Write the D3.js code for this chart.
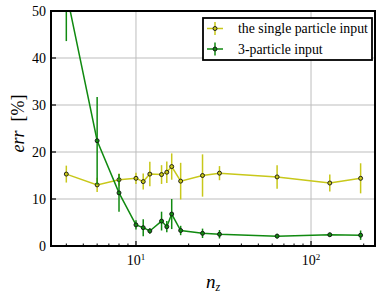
<!DOCTYPE html>
<html>
<head>
<meta charset="utf-8">
<script src="https://cdn.jsdelivr.net/npm/d3@7"></script>
<style>
  body { margin: 0; background: #fff; }
</style>
</head>
<body>
<div class="canvas"></div>
<script>
// data
const nz = [4, 6, 8, 10, 11, 12, 14, 15, 16, 18, 24, 30, 64, 128, 192];
const singleErr = [15.3, 13.0, 14.1, 14.4, 13.7, 15.3, 15.2, 15.7, 16.9, 13.8, 15.0, 15.5, 14.7, 13.4, 14.4];
const singleBar = [1.8, 1.5, 1.3, 1.2, 1.7, 2.6, 2.0, 2.3, 2.8, 3.9, 4.5, 1.5, 2.5, 1.8, 3.2];
const threeErr = [54, 22.4, 11.3, 4.5, 3.9, 3.2, 5.3, 4.1, 6.8, 3.3, 2.7, 2.5, 2.1, 2.4, 2.3];
const threeBar = [10.4, 9.3, 4.0, 1.0, 1.8, 0.6, 2.0, 1.2, 3.2, 1.0, 1.0, 0.9, 0.5, 0.4, 1.0];
const yTicks = [0, 10, 20, 30, 40, 50];
const seriesNames = ['the single particle input', '3-particle input'];

const dims = { width: 381, height: 299 };
const margin = { top: 11, right: 6, bottom: 53, left: 51 };
const w = dims.width - margin.left - margin.right;
const h = dims.height - margin.top - margin.bottom;
const serif = "'Liberation Serif', 'Times New Roman', serif";

const x = d3.scaleLog().domain([3.27, 232]).range([0, w]);
const y = d3.scaleLinear().domain([0, 50]).range([h, 0]);

const series = [
    { name: seriesNames[0], vals: singleErr, bars: singleBar, color: '#c8c81a' },
    { name: seriesNames[1], vals: threeErr, bars: threeBar, color: '#108a10' }
];

const svg = d3.select('.canvas')
    .append('svg')
    .attr('width', dims.width)
    .attr('height', dims.height);

const g = svg.append('g')
    .attr('transform', `translate(${margin.left}, ${margin.top})`);

svg.append('defs').append('clipPath')
    .attr('id', 'clip')
    .append('rect')
    .attr('width', w)
    .attr('height', h);

// grid
g.selectAll('.gx').data([10, 100]).enter()
    .append('line')
    .attr('x1', d => x(d)).attr('x2', d => x(d))
    .attr('y1', 0).attr('y2', h)
    .attr('stroke', '#bdbdbd').attr('stroke-width', 1);
g.selectAll('.gy').data(yTicks.slice(1, -1)).enter()
    .append('line')
    .attr('y1', d => y(d)).attr('y2', d => y(d))
    .attr('x1', 0).attr('x2', w)
    .attr('stroke', '#bdbdbd').attr('stroke-width', 1);

// data
const plot = g.append('g').attr('clip-path', 'url(#clip)');
const line = d3.line().x((d, i) => x(nz[i])).y(d => y(d));

series.forEach(s => {
    const sg = plot.append('g');
    sg.selectAll('line.err').data(s.vals).enter()
        .append('line')
        .attr('x1', (d, i) => x(nz[i])).attr('x2', (d, i) => x(nz[i]))
        .attr('y1', (d, i) => y(d - s.bars[i]))
        .attr('y2', (d, i) => y(d + s.bars[i]))
        .attr('stroke', s.color).attr('stroke-width', 1.5);
    sg.append('path')
        .attr('d', line(s.vals))
        .attr('fill', 'none')
        .attr('stroke', s.color).attr('stroke-width', 1.5);
    sg.selectAll('circle').data(s.vals).enter()
        .append('circle')
        .attr('cx', (d, i) => x(nz[i]))
        .attr('cy', d => y(d))
        .attr('r', 2)
        .attr('fill', s.color)
        .attr('stroke', '#111').attr('stroke-width', 0.9);
});

// axes, ticks inward
const xMinor = [];
for (let e = 1; e <= 100; e *= 10) {
    for (let k = 2; k < 10; k++) {
        const v = k * e;
        if (v > 3.27 && v < 232) xMinor.push(v);
    }
}
g.selectAll('.xminor').data(xMinor).enter()
    .append('line')
    .attr('x1', d => x(d)).attr('x2', d => x(d))
    .attr('y1', h).attr('y2', h - 2.5)
    .attr('stroke', '#000').attr('stroke-width', 1);
g.selectAll('.xmajor').data([10, 100]).enter()
    .append('line')
    .attr('x1', d => x(d)).attr('x2', d => x(d))
    .attr('y1', h).attr('y2', h - 5)
    .attr('stroke', '#000').attr('stroke-width', 1.2);
g.selectAll('.ymajor').data(yTicks).enter()
    .append('line')
    .attr('y1', d => y(d)).attr('y2', d => y(d))
    .attr('x1', 0).attr('x2', 5)
    .attr('stroke', '#000').attr('stroke-width', 1.2);

g.append('rect')
    .attr('width', w).attr('height', h)
    .attr('fill', 'none')
    .attr('stroke', '#000').attr('stroke-width', 2);

// tick labels
g.selectAll('.ylab').data(yTicks).enter()
    .append('text')
    .attr('x', -5)
    .attr('y', d => y(d))
    .attr('dy', '0.35em')
    .attr('text-anchor', 'end')
    .attr('font-size', 14)
    .text(d => d);

const xl = g.selectAll('.xlab').data([1, 2]).enter()
    .append('text')
    .attr('x', d => x(Math.pow(10, d)))
    .attr('y', h + 19)
    .attr('text-anchor', 'middle')
    .attr('font-size', 14);
xl.append('tspan').text('10');
xl.append('tspan').attr('dy', -5).attr('font-size', 9).text(d => d);

// axis titles
const xt = svg.append('text')
    .attr('x', margin.left + w / 2)
    .attr('y', 288)
    .attr('text-anchor', 'middle')
    .attr('font-size', 19)
    .attr('font-style', 'italic');
xt.append('tspan').text('n');
xt.append('tspan').attr('dy', 3).attr('font-size', 12).text('z');

const yt = svg.append('text')
    .attr('transform', `translate(24, 123.5) rotate(-90)`)
    .attr('text-anchor', 'middle')
    .attr('font-size', 18);
yt.append('tspan').attr('font-style', 'italic').text('err');
yt.append('tspan').attr('xml:space', 'preserve').text('  [%]');

// legend
const lg = svg.append('g').attr('transform', 'translate(203, 18)');
lg.append('rect')
    .attr('width', 169).attr('height', 42)
    .attr('fill', '#fff')
    .attr('stroke', '#000').attr('stroke-width', 1.8);
series.forEach((s, i) => {
    const row = lg.append('g').attr('transform', `translate(0, ${10.5 + i * 20.5})`);
    row.append('line')
        .attr('x1', 4).attr('x2', 20).attr('y1', 0).attr('y2', 0)
        .attr('stroke', s.color).attr('stroke-width', 1.5);
    row.append('line')
        .attr('x1', 12).attr('x2', 12).attr('y1', -6.5).attr('y2', 6.5)
        .attr('stroke', s.color).attr('stroke-width', 1.5);
    row.append('circle')
        .attr('cx', 12).attr('cy', 0).attr('r', 2)
        .attr('fill', s.color)
        .attr('stroke', '#111').attr('stroke-width', 0.9);
    row.append('text')
        .attr('x', 35).attr('y', 0).attr('dy', '0.35em')
        .attr('font-size', 13.8)
        .text(s.name);
});

// serif everywhere
svg.selectAll('text').style('font-family', serif);
</script>
</body>
</html>
